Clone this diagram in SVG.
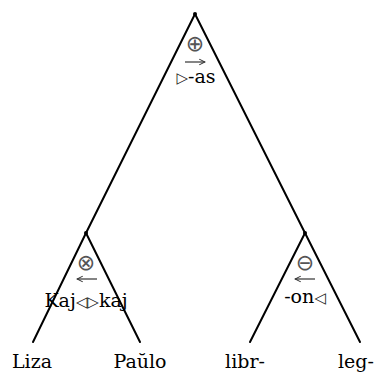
<svg xmlns="http://www.w3.org/2000/svg" width="377" height="372" viewBox="0 0 377 372">
<style>
.e{stroke:#000;stroke-width:2;fill:none;stroke-linecap:round}
.d{fill:#000}
.t{font-family:'DejaVu Serif','Liberation Serif',serif;font-size:19px;fill:#000;text-anchor:middle}
.s{font-family:'DejaVu Sans',sans-serif;font-size:22px;fill:#555;text-anchor:middle}
.a{stroke:#333;stroke-width:1.2;fill:none}
.sym{font-family:'DejaVu Sans',sans-serif;font-size:15px;fill:#222}
</style>
<defs>
<marker id="ah" viewBox="0 0 10 10" refX="9" refY="5" markerWidth="6" markerHeight="6" orient="auto-start-reverse"><path d="M1,1 L9,5 L1,9" fill="none" stroke="#333" stroke-width="1.4"/></marker>
</defs>
<g id="connectors">
<line class="e" x1="195" y1="14" x2="86" y2="233"/>
<line class="e" x1="195" y1="14" x2="305" y2="233"/>
<line class="e" x1="86" y1="233" x2="33" y2="342"/>
<line class="e" x1="86" y1="233" x2="140" y2="342"/>
<line class="e" x1="305" y1="233" x2="250" y2="342"/>
<line class="e" x1="305" y1="233" x2="360" y2="342"/>
</g>
<g id="root">
<circle class="d" cx="195" cy="14" r="2"/>
<text class="s" x="195" y="51">⊕</text>
<line class="a" x1="185" y1="62" x2="205" y2="62" marker-end="url(#ah)"/>
<text class="t" x="196" y="83"><tspan class="sym">▷</tspan>-as</text>
</g>
<g id="left">
<circle class="d" cx="86" cy="233" r="2"/>
<text class="s" x="86" y="270">⊗</text>
<line class="a" x1="77" y1="279" x2="97" y2="279" marker-start="url(#ah)"/>
<text class="t" x="86" y="307">Kaj<tspan class="sym">◁▷</tspan>kaj</text>
</g>
<g id="right">
<circle class="d" cx="305" cy="233" r="2"/>
<text class="s" x="305" y="270">⊖</text>
<line class="a" x1="295" y1="279" x2="315" y2="279" marker-start="url(#ah)"/>
<text class="t" x="305" y="303">-on<tspan class="sym">◁</tspan></text>
</g>
<g id="liza"><text class="t" x="32" y="368">Liza</text></g>
<g id="paulo"><text class="t" x="140" y="368">Paŭlo</text></g>
<g id="libr"><text class="t" x="245" y="368">libr-</text></g>
<g id="leg"><text class="t" x="356" y="368">leg-</text></g>
</svg>
